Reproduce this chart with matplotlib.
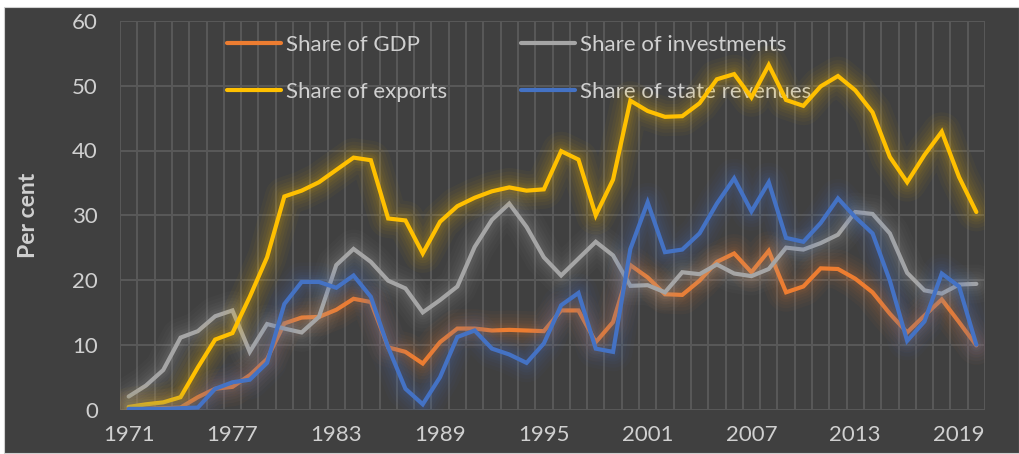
import matplotlib
matplotlib.use("Agg")
import matplotlib.pyplot as plt
from matplotlib.patches import Rectangle
import numpy as np

years = list(range(1971, 2021))

gdp = [0.1, 0.1, 0.2, 0.3, 1.9, 3.2, 3.5, 5.3, 7.8, 13.3,
       14.2, 14.3, 15.4, 17.1, 16.6, 9.6, 8.9, 7.1, 10.4, 12.5,
       12.5, 12.2, 12.3, 12.2, 12.1, 15.3, 15.3, 10.4, 13.5, 22.3,
       20.4, 17.8, 17.7, 19.9, 22.8, 24.1, 21.2, 24.5, 18.1, 19.0,
       21.8, 21.7, 20.2, 18.1, 14.8, 11.9, 14.5, 17.0, 13.5, 9.9]

investments = [2.0, 3.7, 6.1, 11.1, 12.1, 14.4, 15.3, 8.9, 13.2, 12.5,
               11.9, 14.3, 22.3, 24.8, 22.8, 19.9, 18.7, 15.0, 16.9, 19.0,
               25.1, 29.3, 31.8, 28.2, 23.5, 20.7, 23.3, 25.9, 23.8, 19.1,
               19.2, 18.1, 21.2, 20.9, 22.4, 21.0, 20.6, 21.7, 25.0, 24.7,
               25.7, 27.0, 30.5, 30.2, 27.2, 21.1, 18.4, 17.9, 19.3, 19.4]

exports = [0.4, 0.8, 1.1, 1.9, 6.5, 10.8, 11.8, 17.4, 23.5, 32.9,
           33.8, 35.1, 37.0, 38.9, 38.5, 29.5, 29.2, 24.1, 29.0, 31.4,
           32.7, 33.7, 34.3, 33.8, 34.0, 39.9, 38.6, 30.0, 35.5, 47.7,
           46.1, 45.2, 45.3, 47.3, 51.0, 51.8, 48.2, 53.2, 47.8, 46.9,
           49.9, 51.5, 49.3, 45.9, 39.0, 35.1, 39.3, 42.9, 35.9, 30.5]

revenues = [0.1, 0.1, 0.1, 0.2, 0.3, 3.2, 4.2, 4.6, 7.2, 16.3,
            19.7, 19.7, 18.8, 20.7, 17.4, 9.6, 3.2, 0.8, 5.0, 11.2,
            12.2, 9.4, 8.5, 7.2, 10.2, 16.1, 18.0, 9.4, 8.9, 24.8,
            32.0, 24.3, 24.7, 27.2, 31.8, 35.7, 30.6, 35.1, 26.5, 25.9,
            28.8, 32.6, 29.7, 27.2, 19.9, 10.6, 13.6, 21.0, 19.0, 10.0]

series_names = ["Share of GDP", "Share of investments", "Share of exports", "Share of state revenues"]
series_data = [gdp, investments, exports, revenues]
colors = ["#ED7D31", "#A5A5A5", "#FFC000", "#4472C4"]

xtick_years = list(range(1971, 2021, 6))
yticks = list(range(0, 61, 10))

BG = "#404040"
GRID = "#595959"
TXT = "#D0D0D0"
FONT = ["Lato", "DejaVu Sans"]
plt.rcParams["font.family"] = FONT

W, H = 1019, 454
fig = plt.figure(figsize=(W / 100, H / 100), dpi=100)
fig.patch.set_facecolor("white")
fig.add_artist(Rectangle((4 / W, 1 / H), 1 - 4 / W, 1 - 8 / H,
                         transform=fig.transFigure, facecolor=BG,
                         edgecolor="#d0d0d0", linewidth=0.8, zorder=0))

ax = fig.add_axes([120 / W, 1 - 409.5 / H, (985 - 120) / W, (409.5 - 21) / H])
ax.set_facecolor(BG)
ax.set_xlim(1970.5, 2020.5)
ax.set_ylim(0, 60)
ax.set_xticks(xtick_years)
ax.set_xticklabels([str(y) for y in xtick_years])
ax.set_yticks(yticks)
ax.set_xticks(np.arange(1970.5, 2021, 1.0), minor=True)
ax.tick_params(axis="both", which="both", length=0, colors=TXT, labelsize=16)
ax.tick_params(axis="x", pad=11)
ax.tick_params(axis="y", pad=16)
for s in ax.spines.values():
    s.set_visible(False)
ax.set_axisbelow(True)
ax.grid(axis="y", which="major", color=GRID, linewidth=1.4)
ax.grid(axis="x", which="minor", color=GRID, linewidth=1.4)
ax.grid(axis="x", which="major", visible=False)

handles = []
glow_layers = [(28, 0.035), (23, 0.04), (18, 0.045), (14, 0.05), (10, 0.06), (7, 0.07)]
for i, (name, data, c) in enumerate(zip(series_names, series_data, colors)):
    z = 3 + i
    for lw, a in glow_layers:
        ax.plot(years, data, color=c, linewidth=lw, alpha=a, zorder=z,
                solid_capstyle="round", solid_joinstyle="round")
    ln, = ax.plot(years, data, color=c, linewidth=3.0, zorder=z + 0.5,
                  solid_capstyle="round", solid_joinstyle="miter")
    handles.append(ln)

ax.set_ylabel("Per cent", color=TXT, fontsize=16.5, fontweight="bold")
ax.yaxis.set_label_coords((39 - 120) / (985 - 120), 0.5)

legend_kw = dict(loc="upper left", bbox_transform=fig.transFigure, frameon=False,
                 borderpad=0, handlelength=2.45, handletextpad=0.2,
                 labelspacing=1.2, fontsize=16, labelcolor=TXT, borderaxespad=0)
leg1 = ax.legend([handles[0], handles[2]], [series_names[0], series_names[2]],
                 bbox_to_anchor=(227 / W, 1 - 35 / H), **legend_kw)
leg1.set_zorder(2.5)
ax.add_artist(leg1)
leg2 = ax.legend([handles[1], handles[3]], [series_names[1], series_names[3]],
                 bbox_to_anchor=(521 / W, 1 - 35 / H), **legend_kw)
leg2.set_zorder(2.5)

fig.savefig("out.png", dpi=100, facecolor="white")
